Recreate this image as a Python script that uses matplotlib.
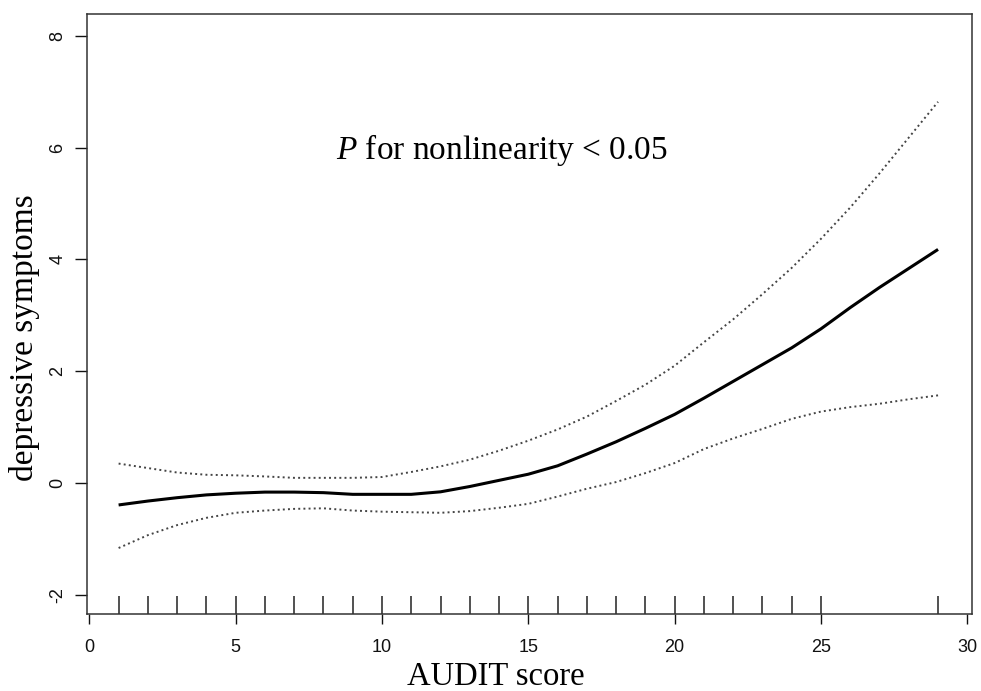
import matplotlib
matplotlib.use('Agg')
import matplotlib.pyplot as plt
import matplotlib.transforms as mtransforms

plt.rcParams['axes.unicode_minus'] = False
plt.rcParams['mathtext.fontset'] = 'custom'
plt.rcParams['mathtext.rm'] = 'Liberation Serif'
plt.rcParams['mathtext.it'] = 'Liberation Serif:italic'
plt.rcParams['xtick.major.size'] = 7.2
plt.rcParams['xtick.major.pad'] = 11
plt.rcParams['ytick.major.size'] = 8.5
plt.rcParams['ytick.major.pad'] = 6.5

# AUDIT score grid and fitted spline values
audit = list(range(1, 30))
fit = [-0.39, -0.32, -0.26, -0.21, -0.18, -0.16, -0.16, -0.17, -0.20, -0.20,
       -0.20, -0.155, -0.06, 0.05, 0.16, 0.31, 0.52, 0.74, 0.98, 1.23,
       1.52, 1.82, 2.12, 2.42, 2.76, 3.14, 3.50, 3.84, 4.18]
upper = [0.35, 0.27, 0.19, 0.15, 0.14, 0.12, 0.095, 0.095, 0.095, 0.11,
         0.20, 0.30, 0.42, 0.58, 0.76, 0.96, 1.19, 1.47, 1.76, 2.10,
         2.52, 2.93, 3.38, 3.85, 4.37, 4.93, 5.54, 6.18, 6.82]
lower = [-1.16, -0.93, -0.75, -0.62, -0.53, -0.49, -0.46, -0.45, -0.49, -0.51,
         -0.52, -0.53, -0.50, -0.44, -0.37, -0.24, -0.10, 0.02, 0.18, 0.36,
         0.61, 0.80, 0.97, 1.15, 1.28, 1.36, 1.42, 1.50, 1.57]
# observed AUDIT values (rug)
rug_x = [1, 2, 3, 4, 5, 6, 7, 8, 9, 10, 11, 12, 13, 14, 15, 16, 17, 18, 19,
         20, 21, 22, 23, 24, 25, 29]

x_ticks = [0, 5, 10, 15, 20, 25, 30]
y_ticks = [-2, 0, 2, 4, 6, 8]

serif = ['Liberation Serif', 'DejaVu Serif']
sans = ['Liberation Sans', 'DejaVu Sans']

fig = plt.figure(figsize=(9.81, 6.91), dpi=100)
ax = fig.add_axes([87 / 981, 1 - 614 / 691, 885 / 981, 600 / 691])

ax.plot(audit, fit, color='black', lw=2.2, solid_capstyle='butt')
ax.plot(audit, upper, color='#444444', lw=1.4, ls=':')
ax.plot(audit, lower, color='#444444', lw=1.4, ls=':')

# rug along the bottom, 3% of plot height like R's rug()
trans = mtransforms.blended_transform_factory(ax.transData, ax.transAxes)
ax.vlines(rug_x, 0, 0.03, transform=trans, color='#222222', lw=1.1)

ax.set_xlim(-0.08, 30.16)
ax.set_ylim(-2.34, 8.39)
ax.set_xticks(x_ticks)
ax.set_yticks(y_ticks)
ax.set_xticklabels([str(v) for v in x_ticks], family=sans, fontsize=13)
ax.set_yticklabels([str(v) for v in y_ticks], family=sans, fontsize=13,
                   rotation=90, va='center', ha='right')
ax.tick_params(axis='both', width=1.0, colors='#111111')

for s in ax.spines.values():
    s.set_linewidth(1.1)
    s.set_color('#333333')

ax.text(14.1, 5.96, r'$P$ for nonlinearity < 0.05', fontsize=24,
        family=serif, ha='center', va='center')

ax.set_xlabel('AUDIT score', family=serif, fontsize=23.5)
ax.xaxis.set_label_coords(0.462, -0.079)
ax.set_ylabel('depressive symptoms', family=serif, fontsize=24)
ax.yaxis.set_label_coords(-0.071, 0.46)
ax.yaxis.label.set_va('center')

fig.savefig('out.png', dpi=100)
